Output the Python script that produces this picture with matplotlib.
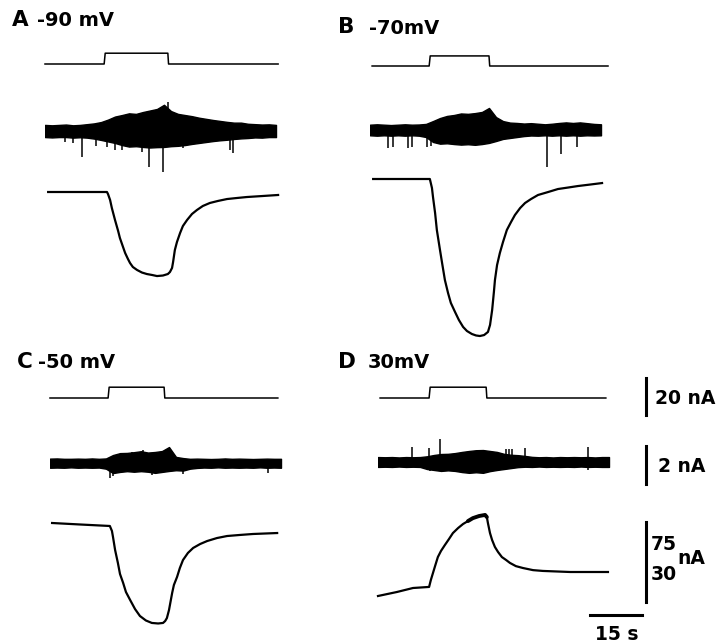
import numpy as np
import matplotlib
matplotlib.use('Agg')
import matplotlib.pyplot as plt

# ---- data (time in s, current in nA) ----
NOISE_T = np.arange(0, 67, 2)

# command steps: start, step on, step off, end, amplitude
A_STEP = [0.0, 16.9, 35.1, 66.6, 6.0]
B_STEP = [0.6, 16.9, 34.0, 68.0, 5.6]
C_STEP = [0.0, 16.6, 32.6, 65.1, 6.0]
D_STEP = [0.6, 14.6, 30.9, 65.1, 6.0]

# noise band envelopes and single events
A_TOP = [0.32, 0.3, 0.32, 0.34, 0.3, 0.32, 0.36, 0.4, 0.47, 0.6, 0.76, 0.84, 0.93, 0.9, 1.0, 1.08, 1.16,
         1.38, 1.05, 0.9, 0.84, 0.78, 0.7, 0.64, 0.58, 0.53, 0.48, 0.44, 0.44, 0.38, 0.36, 0.34, 0.35, 0.32]
A_BOT = [-0.32, -0.34, -0.32, -0.32, -0.35, -0.33, -0.35, -0.4, -0.47, -0.55, -0.63, -0.74, -0.82, -0.8, -0.84,
         -0.87, -0.85, -0.84, -0.8, -0.78, -0.74, -0.68, -0.63, -0.58, -0.53, -0.49, -0.46, -0.42, -0.39, -0.37,
         -0.34, -0.35, -0.32, -0.32]
A_SPK_T = [5.7, 8.0, 10.6, 14.6, 17.7, 20.0, 22.0, 27.7, 29.7, 33.7, 35.1, 39.4, 52.9, 53.7]
A_SPK_V = [-0.58, -0.63, -1.37, -0.79, -0.84, -1.0, -1.0, -1.1, -1.89, -2.16, 1.55, -0.89, -1.0, -1.16]

B_TOP = [0.28, 0.3, 0.28, 0.26, 0.28, 0.3, 0.28, 0.29, 0.32, 0.47, 0.63, 0.74, 0.79, 0.87, 0.85, 0.89, 0.95,
         1.16, 0.68, 0.47, 0.39, 0.37, 0.34, 0.36, 0.33, 0.3, 0.33, 0.37, 0.4, 0.37, 0.4, 0.36, 0.32, 0.3]
B_BOT = [-0.28, -0.3, -0.28, -0.3, -0.28, -0.3, -0.28, -0.3, -0.37, -0.63, -0.72, -0.7, -0.74, -0.77, -0.75,
         -0.78, -0.74, -0.68, -0.58, -0.47, -0.42, -0.37, -0.32, -0.29, -0.3, -0.28, -0.3, -0.28, -0.3, -0.28,
         -0.3, -0.28, -0.29, -0.28]
B_SPK_T = [5.1, 6.6, 10.9, 12.0, 16.3, 17.4, 50.6, 54.6, 59.1]
B_SPK_V = [-0.95, -0.9, -0.95, -0.9, -0.9, -0.85, -1.95, -1.26, -0.89]

C_TOP = [0.23, 0.24, 0.22, 0.22, 0.23, 0.22, 0.24, 0.22, 0.24, 0.42, 0.52, 0.53, 0.57, 0.62, 0.55, 0.58, 0.63,
         0.84, 0.32, 0.26, 0.22, 0.23, 0.22, 0.21, 0.22, 0.24, 0.22, 0.23, 0.22, 0.21, 0.22, 0.23, 0.22, 0.22]
C_BOT = [-0.25, -0.24, -0.25, -0.23, -0.25, -0.24, -0.25, -0.24, -0.3, -0.53, -0.47, -0.43, -0.46, -0.43, -0.46,
         -0.52, -0.47, -0.42, -0.38, -0.4, -0.3, -0.26, -0.24, -0.25, -0.23, -0.25, -0.24, -0.25, -0.24, -0.25,
         -0.23, -0.25, -0.24, -0.25]
C_SPK_T = [17.1, 18.0, 23.4, 26.6, 29.1, 38.0, 62.3]
C_SPK_V = [-0.79, -0.68, 0.6, 0.68, -0.63, -0.6, -0.5]

D_TOP = [0.26, 0.25, 0.26, 0.24, 0.26, 0.25, 0.26, 0.3, 0.37, 0.42, 0.43, 0.47, 0.53, 0.58, 0.62, 0.63, 0.58,
         0.53, 0.43, 0.38, 0.36, 0.32, 0.27, 0.25, 0.26, 0.24, 0.26, 0.25, 0.26, 0.25, 0.26, 0.24, 0.26, 0.26]
D_BOT = [-0.26, -0.25, -0.26, -0.24, -0.26, -0.25, -0.26, -0.37, -0.42, -0.47, -0.44, -0.47, -0.53, -0.57, -0.54,
         -0.57, -0.48, -0.42, -0.37, -0.32, -0.27, -0.25, -0.26, -0.24, -0.26, -0.25, -0.26, -0.25, -0.26, -0.24,
         -0.26, -0.25, -0.26, -0.26]
D_SPK_T = [9.7, 14.6, 14.9, 17.7, 36.6, 37.4, 38.3, 42.0, 60.0, 60.0]
D_SPK_V = [0.79, 0.74, -0.45, 1.21, 0.68, 0.68, 0.68, 0.74, 0.79, -0.42]

# slow inward / outward currents
A_SLOW_T = [0.9, 17.7, 18.0, 18.6, 19.1, 20.0, 20.9, 21.4, 22.3, 22.9, 23.7, 24.3, 25.1, 26.3, 27.7, 29.1,
            30.6, 32.0, 33.7, 35.1, 35.7, 36.3, 36.6, 37.1, 37.7, 38.6, 39.4, 40.6, 42.0, 43.4, 45.1, 47.1,
            49.4, 52.0, 54.9, 57.7, 62.0, 66.6]
A_SLOW_V = [0, 0, -1.9, -7.5, -15.0, -26.2, -36.6, -43.1, -51.6, -57.2, -62.8, -66.6, -70.3, -73.1, -75.5,
            -76.9, -77.8, -78.8, -78.3, -76.9, -75.0, -71.2, -65.6, -54.4, -46.9, -38.4, -31.9, -26.2, -20.6,
            -16.9, -13.1, -10.3, -8.4, -6.6, -5.6, -4.7, -3.8, -2.8]
B_SLOW_T = [0.9, 17.1, 17.7, 18.0, 18.6, 19.1, 20.0, 20.6, 21.4, 22.3, 23.1, 24.3, 25.4, 26.6, 27.7, 29.1,
            30.3, 31.4, 32.6, 33.7, 34.3, 34.9, 35.4, 35.7, 36.3, 37.1, 38.0, 39.1, 40.3, 41.4, 42.9, 44.3,
            46.0, 48.0, 50.9, 53.7, 56.6, 59.4, 62.9, 66.3]
B_SLOW_V = [0, 0, -8.4, -16.9, -31.9, -47.8, -66.6, -78.8, -94.7, -106.9, -116.2, -124.7, -132.2, -138.7,
            -142.5, -145.3, -146.7, -147.2, -146.3, -143.4, -136.8, -122.8, -105.9, -94.7, -80.7, -69.4, -59.1,
            -47.8, -40.3, -33.8, -27.2, -22.5, -18.8, -15.0, -12.2, -9.4, -8.0, -6.6, -5.2, -3.8]
C_SLOW_T = [0.6, 8.6, 17.1, 17.7, 18.0, 18.6, 19.4, 20.0, 20.9, 21.7, 22.9, 24.3, 25.7, 27.4, 29.1, 30.9,
            32.3, 32.9, 33.4, 34.0, 34.9, 35.4, 36.3, 37.1, 38.0, 39.4, 40.9, 42.9, 44.9, 47.7, 50.6, 54.3,
            58.0, 64.9]
C_SLOW_V = [0, -1.4, -2.8, -7.5, -13.1, -25.3, -37.5, -47.8, -56.2, -64.7, -72.2, -80.7, -87.2, -91.4, -93.7,
            -94.2, -93.7, -91.9, -89.1, -81.6, -65.6, -58.1, -50.6, -42.2, -34.7, -28.1, -23.4, -19.7, -16.9,
            -14.1, -12.2, -11.2, -10.3, -9.4]
D_SLOW_T = [0.0, 5.4, 10.0, 14.6, 15.1, 15.7, 16.3, 17.1, 18.0, 19.1, 20.3, 21.4, 22.9, 24.3, 25.7, 27.1,
            28.9, 30.6, 31.1, 31.4, 32.0, 32.6, 33.4, 34.3, 35.4, 36.6, 37.7, 39.4, 41.4, 44.3, 47.1, 54.9, 65.7]
D_SLOW_V = [0, 1.5, 3.0, 3.4, 6.0, 8.6, 11.2, 14.6, 16.9, 19.1, 21.4, 23.6, 25.5, 27.0, 28.1, 29.2, 30.0,
            30.4, 29.6, 27.4, 23.6, 21.0, 18.4, 16.5, 14.6, 13.5, 12.4, 11.2, 10.5, 9.7, 9.4, 9.0, 9.0]

LABELS = ['A', 'B', 'C', 'D']
VOLTAGES = ['-90 mV', '-70mV', '-50 mV', '30mV']

# ---- layout (pixels of the 723x643 picture) ----
W, H = 723, 643
PX_PER_S = 3.5
K_STEP = 1.8
K_NOISE = 19.0
K_SLOW = 80 / 75.0
K_SLOW_D = 80 / 30.0

fig = plt.figure(figsize=(W / 100, H / 100), dpi=100)
fig.patch.set_facecolor('white')


def px_axes(x0, y0, k, lo, hi, span=70.0):
    # axes whose value 0 sits at pixel row y0 and t=0 at pixel column x0
    top = y0 - hi * k
    bot = y0 - lo * k
    ax = fig.add_axes([x0 / W, 1 - bot / H, span * PX_PER_S / W, (bot - top) / H])
    ax.set_xlim(0, span)
    ax.set_ylim(lo, hi)
    ax.axis('off')
    return ax


def fig_text(x, y, s, size, **kw):
    fig.text(x / W, 1 - y / H, s, fontsize=size, fontweight='bold', family='DejaVu Sans',
             va='center', **kw)


panels = [
    # x0, step row, noise row, slow row, slow scale, data
    (45, 64, 131, 192, K_SLOW, A_STEP, A_TOP, A_BOT, A_SPK_T, A_SPK_V, A_SLOW_T, A_SLOW_V),
    (370, 66, 130, 179, K_SLOW, B_STEP, B_TOP, B_BOT, B_SPK_T, B_SPK_V, B_SLOW_T, B_SLOW_V),
    (50, 398, 463, 523, K_SLOW, C_STEP, C_TOP, C_BOT, C_SPK_T, C_SPK_V, C_SLOW_T, C_SLOW_V),
    (378, 398, 462, 596, K_SLOW_D, D_STEP, D_TOP, D_BOT, D_SPK_T, D_SPK_V, D_SLOW_T, D_SLOW_V),
]

axes_d = None
for (x0, y_step, y_noise, y_slow, k_slow, step, top, bot, spk_t, spk_v, slow_t, slow_v) in panels:
    ax1 = px_axes(x0, y_step, K_STEP, -12, 12)
    t0, t_on, t_off, t_end, amp = step
    ax1.plot([t0, t_on, t_on + 0.3, t_off, t_off + 0.2, t_end], [0, 0, amp, amp, 0, 0],
             color='k', lw=1.1, clip_on=False)

    ax2 = px_axes(x0, y_noise, K_NOISE, -2.5, 2.0)
    ax2.fill_between(NOISE_T, top, bot, color='k', lw=1.0, edgecolor='k')
    ax2.vlines(spk_t, 0, spk_v, color='k', lw=1.1)

    ax3 = px_axes(x0, y_slow, k_slow, -160, 40)
    ax3.plot(slow_t, slow_v, color='k', lw=1.6, solid_joinstyle='round', clip_on=False)
    axes_d = (ax1, ax2, ax3)

# noisy crest of the outward current in D is drawn thicker
ax1, ax2, ax3 = axes_d
ax3.plot(D_SLOW_T[14:19], D_SLOW_V[14:19], color='k', lw=2.8, solid_capstyle='round')

# scale bars, drawn in the units of panel D
ax1.plot([76.6, 76.6], [-9.2, 11.0], color='k', lw=2.2, clip_on=False)
ax2.plot([76.6, 76.6], [-1.15, 0.85], color='k', lw=2.2, clip_on=False)
ax3.plot([76.6, 76.6], [-2.3, 27.7], color='k', lw=2.2, clip_on=False)
ax3.plot([60.5, 75.5], [-7.1, -7.1], color='k', lw=2.2, clip_on=False)

# panel titles: letter and holding potential
title_pos = [(12, 20, 37), (338, 27, 369), (17, 362, 38), (338, 362, 368)]
for lab, volt, (xl, yl, xv) in zip(LABELS, VOLTAGES, title_pos):
    fig_text(xl, yl, lab, 15.5)
    fig_text(xv, yl + 1, volt, 14)

fig_text(655, 398, '20 nA', 13.5)
fig_text(658, 467, '2 nA', 13.5)
fig_text(651, 544, '75', 13.5)
fig_text(651, 575, '30', 13.5)
fig_text(677, 559, 'nA', 13.5)
fig_text(617, 634, '15 s', 13.5, ha='center')

fig.savefig('out.png', dpi=100, facecolor='white')
